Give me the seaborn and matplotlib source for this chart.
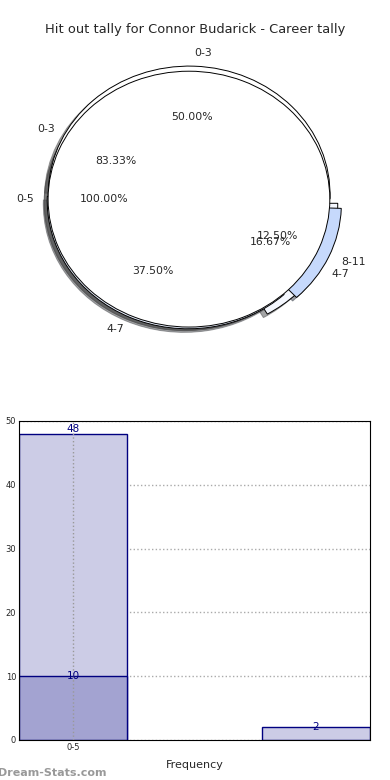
import numpy as np
import pandas as pd
import matplotlib
matplotlib.use('Agg')
import matplotlib.pyplot as plt
import seaborn as sns

# pie rings (counts per bin)
outerLabels = ['0-3', '4-7', '8-11']
outerCounts = [4, 3, 1]
middleLabels = ['0-3', '4-7']
middleCounts = [5, 1]
innerLabels = ['0-5']
innerCounts = [1]

# frequency bars
barCenters = [0.5, 2.75]
barTotals = [48, 2]
subCenters = [0.5]
subCounts = [10]
tickLabels = ['0-5']

sns.set_style('white')
plt.rcParams['font.family'] = ['DejaVu Sans']

fig = plt.figure(figsize=(3.9, 7.8), dpi=100)
fig.suptitle('Hit out tally for Connor Budarick - Career tally', fontsize=9.4, y=0.97)

# ---- pie part
axPie = fig.add_axes([0.033, 0.5397, 0.903, 0.41])
wp = {'edgecolor': 'black', 'linewidth': 0.7}
txt = {'fontsize': 7.8}
axPie.pie(middleCounts, labels=middleLabels, autopct='%.2f%%', colors=['white', '#f4f7fe'],
          explode=[0.0, 0.065], shadow=True, wedgeprops=wp, textprops=txt, startangle=0)
axPie.pie(outerCounts, labels=outerLabels, autopct='%.2f%%', colors=['white', '#e9f0fe', '#c6d9fc'],
          explode=[0.04, 0.015, 0.09], shadow=True, wedgeprops=wp, textprops=txt, startangle=-2)
axPie.pie(innerCounts, labels=innerLabels, autopct='%.2f%%', colors=['white'],
          shadow=True, wedgeprops=wp, textprops=txt)
axPie.set_aspect('auto')
axPie.set_xlim(-1.25, 1.25)
axPie.set_ylim(-1.25, 1.25)

# ---- bar part
axBar = fig.add_axes([0.0487, 0.0513, 0.9, 0.409])
dfTotal = pd.DataFrame({'x': barCenters, 'y': barTotals})
dfSub = pd.DataFrame({'x': subCenters, 'y': subCounts})
sns.barplot(data=dfTotal, x='x', y='y', native_scale=True, width=1 / 2.25, color='#ccccE6',
            saturation=1, edgecolor='#000080', linewidth=1, ax=axBar, zorder=2)
sns.barplot(data=dfSub, x='x', y='y', native_scale=True, width=1, color='#a3a3d1',
            saturation=1, edgecolor='#000080', linewidth=1, ax=axBar, zorder=2)

for x, v in list(zip(barCenters, barTotals)) + list(zip(subCenters, subCounts)):
    va = 'bottom' if v == max(barTotals) else 'center'
    axBar.text(x, v, str(v), ha='center', va=va, color='#000080', fontsize=7.5, zorder=4)

axBar.set_xlim(0, 3.25)
axBar.set_ylim(0, 50)
axBar.set_yticks(np.arange(0, 51, 10))
axBar.set_xticks(subCenters)
axBar.set_xticklabels(tickLabels)
axBar.tick_params(labelsize=6, direction='in', color='#999999', length=3, pad=2)
axBar.yaxis.grid(True, linestyle=':', color='#aaaaaa', linewidth=1)
axBar.set_axisbelow(True)
for x in subCenters:
    axBar.axvline(x, linestyle=':', color='#999999', linewidth=1, zorder=3)
axBar.set_xlabel('Frequency', fontsize=8, labelpad=6)
axBar.set_ylabel('')
for s in axBar.spines.values():
    s.set_color('black')
    s.set_linewidth(0.8)

fig.text(-0.005, 0.005, 'Dream-Stats.com', fontsize=8, color='#999999', fontweight='bold')

fig.savefig('out.png', dpi=100)
